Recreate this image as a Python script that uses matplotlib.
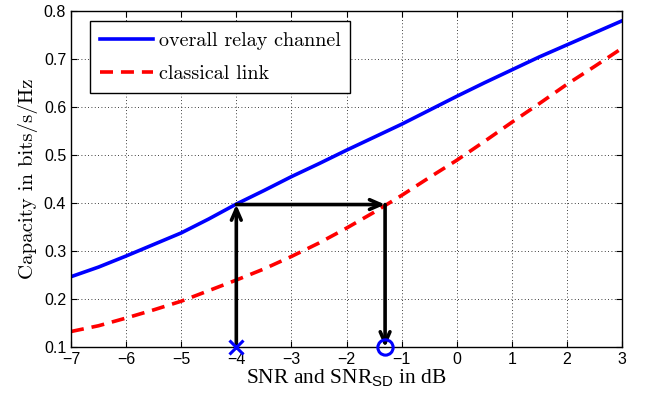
import matplotlib

matplotlib.use("Agg")
import matplotlib.pyplot as plt

# values
snr_db = [-7, -6.5, -6, -5.5, -5, -4.5, -4, -3.5, -3, -2.5, -2,
          -1.5, -1, -0.5, 0, 0.5, 1, 1.5, 2, 2.5, 3]
relay_cap = [0.247, 0.267, 0.290, 0.314, 0.338, 0.367, 0.398, 0.426, 0.455, 0.482, 0.510,
             0.537, 0.564, 0.593, 0.622, 0.650, 0.677, 0.704, 0.729, 0.754, 0.779]
classic_cap = [0.133, 0.145, 0.161, 0.178, 0.196, 0.218, 0.240, 0.263, 0.289, 0.317, 0.348,
               0.381, 0.416, 0.453, 0.489, 0.528, 0.568, 0.607, 0.647, 0.684, 0.722]

snr_relay = -4.0      # operating point of the relay channel
snr_sd = -1.3         # equivalent SNR on the classical link
cap_level = 0.397

plt.rcParams["mathtext.fontset"] = "custom"
plt.rcParams["mathtext.sf"] = "Liberation Sans"
plt.rcParams["mathtext.rm"] = "Liberation Serif"

fig = plt.figure(figsize=(6.48, 4.03), dpi=100)
ax = fig.add_axes([0.1096, 0.138, 0.8503, 0.8354])

ax.plot(snr_db, relay_cap, color="blue", lw=2.6, label="overall relay channel")
ax.plot(snr_db, classic_cap, color="red", lw=2.6, ls=(0, (3.6, 2.2)), label="classical link")

arrow = dict(arrowstyle="->,head_length=0.8,head_width=0.35", color="black", lw=2.6,
             shrinkA=0, shrinkB=0)
ax.annotate("", xy=(snr_relay, cap_level), xytext=(snr_relay, 0.1), arrowprops=arrow)
ax.annotate("", xy=(snr_sd, cap_level), xytext=(snr_relay, cap_level), arrowprops=arrow)
ax.annotate("", xy=(snr_sd, 0.1), xytext=(snr_sd, cap_level), arrowprops=arrow)

ax.plot(snr_relay, 0.1, "x", color="blue", ms=10, mew=2.2, clip_on=False, zorder=5)
ax.plot(snr_sd, 0.1, "o", color="blue", mfc="none", ms=11, mew=2.2, clip_on=False, zorder=5)

ax.set_xlim(-7, 3)
ax.set_ylim(0.1, 0.8)
ax.set_xticks(range(-7, 4))
ax.set_xticklabels([str(v).replace("-", "\u2212") for v in range(-7, 4)])
ax.set_yticks([0.1, 0.2, 0.3, 0.4, 0.5, 0.6, 0.7, 0.8])
ax.tick_params(direction="in", top=True, right=True, labelsize=11.5, length=4)
for lab in ax.get_xticklabels() + ax.get_yticklabels():
    lab.set_family("Liberation Sans")
ax.grid(True, color="black", ls=(0, (1, 3)), lw=0.6)
for s in ax.spines.values():
    s.set_linewidth(1.0)

ax.set_xlabel(r"SNR and SNR$_\mathsf{SD}$ in dB", family="Liberation Serif", fontsize=15.5, labelpad=0)
ax.set_ylabel("Capacity in bits/s/Hz", family="cmr10", fontsize=15, labelpad=4)

leg = ax.legend(loc="upper left", bbox_to_anchor=(0.0345, 0.968), prop={"family": "cmr10", "size": 14.5},
                fancybox=False, edgecolor="black", handlelength=2.65, handletextpad=0.25,
                labelspacing=0.75, borderpad=0.5, borderaxespad=0, framealpha=1)
leg.get_frame().set_linewidth(1.0)

fig.savefig("out.png", dpi=100)
